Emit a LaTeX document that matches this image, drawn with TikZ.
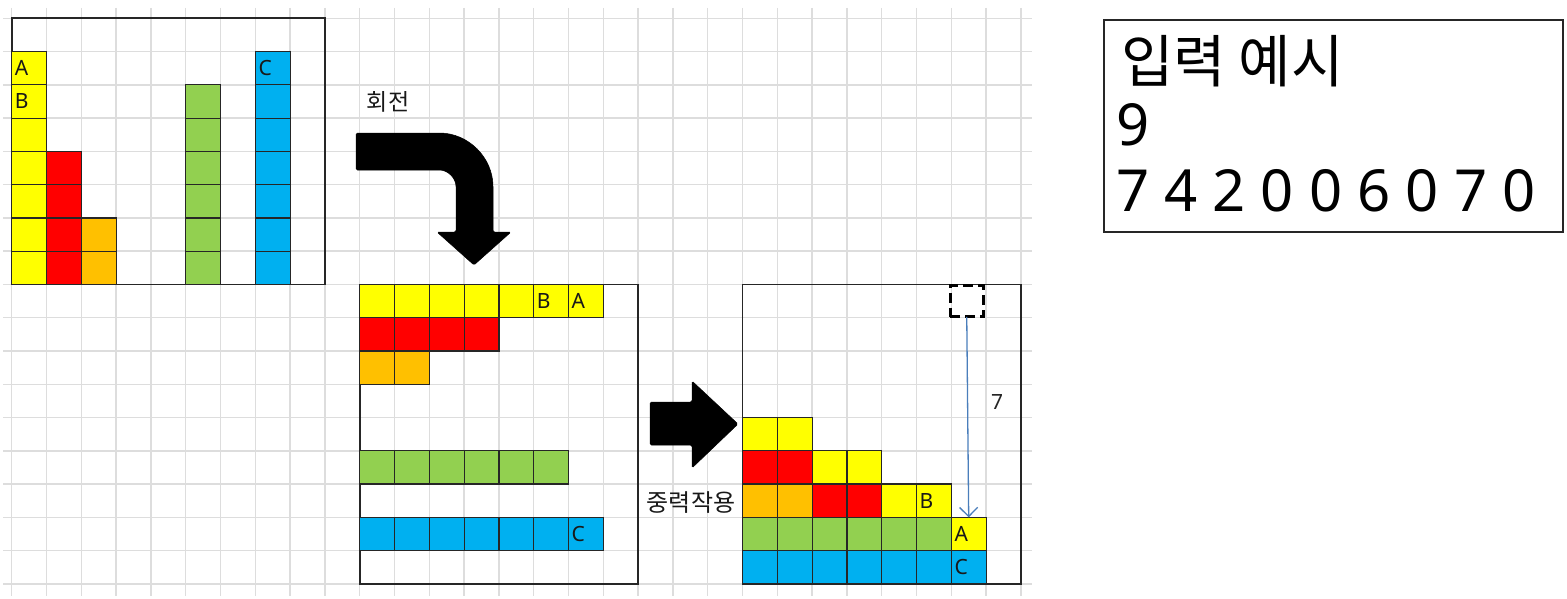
\documentclass[tikz,border=0pt]{standalone}
\usepackage{fontspec}
\setmainfont{Noto Sans}
\newfontfamily\kr{Noto Sans CJK KR}
\usetikzlibrary{arrows.meta}
\definecolor{cyel}{HTML}{FFFF00}
\definecolor{cred}{HTML}{FF0000}
\definecolor{corg}{HTML}{FFC000}
\definecolor{cgrn}{HTML}{92D050}
\definecolor{cblu}{HTML}{00B0F0}
\definecolor{gridc}{HTML}{DDDDDD}
\definecolor{arrowblue}{HTML}{4A7EBB}
\begin{document}
\begin{tikzpicture}[x=1pt,y=-1pt,
  gridline/.style={gridc, line width=1.4pt},
  frame/.style={draw=black!85, line width=1.7pt},
  cellbox/.style={draw=black!85, line width=1.2pt, minimum width=34.8pt, minimum height=33.27pt, inner sep=0pt, outer sep=0pt, anchor=north west},
  lettr/.style={font=\fontsize{21}{24}\selectfont, text=black!90, anchor=west, inner sep=3pt},
  blockarrow/.style={fill=black, draw=black, line width=0.5pt, rounded corners=1.5pt},
  krlabel/.style={font=\kr\fontsize{23}{28}\selectfont, text=black!90, inner sep=0pt},
  bigtxt/.style={inner sep=0pt, anchor=base west, text=black}]
\useasboundingbox (0,0) rectangle (1567,598);
\begin{scope}[shift={(11.7,18.3)}, x=34.8pt, y=-33.27pt]
  % grid
  \foreach \c in {0,...,29} \draw[gridline] (\c,-0.31) -- (\c,17.36);
  \foreach \r in {0,...,17} \draw[gridline] (-0.25,\r) -- (29.32,\r);
  % frames
  \draw[frame] (0,0) rectangle (9,8);
  \draw[frame] (10,8) rectangle (18,17);
  \draw[frame] (21,8) rectangle (29,17);
  % box 1
  \foreach \r in {1,...,7} \node[cellbox, fill=cyel] (a-0-\r) at (0,\r) {};
  \foreach \r in {4,...,7} \node[cellbox, fill=cred] (a-1-\r) at (1,\r) {};
  \foreach \r in {6,7} \node[cellbox, fill=corg] (a-2-\r) at (2,\r) {};
  \foreach \r in {2,...,7} \node[cellbox, fill=cgrn] (a-5-\r) at (5,\r) {};
  \foreach \r in {1,...,7} \node[cellbox, fill=cblu] (a-7-\r) at (7,\r) {};
  \node[lettr] (la1) at (a-0-1.west) {A};
  \node[lettr] (lb1) at (a-0-2.west) {B};
  \node[lettr] (lc1) at (a-7-1.west) {C};
  % box 2
  \foreach \c in {10,...,16} \node[cellbox, fill=cyel] (b-\c-8) at (\c,8) {};
  \foreach \c in {10,...,13} \node[cellbox, fill=cred] (b-\c-9) at (\c,9) {};
  \foreach \c in {10,11} \node[cellbox, fill=corg] (b-\c-10) at (\c,10) {};
  \foreach \c in {10,...,15} \node[cellbox, fill=cgrn] (b-\c-13) at (\c,13) {};
  \foreach \c in {10,...,16} \node[cellbox, fill=cblu] (b-\c-15) at (\c,15) {};
  \node[lettr] (lb2) at (b-15-8.west) {B};
  \node[lettr] (la2) at (b-16-8.west) {A};
  \node[lettr] (lc2) at (b-16-15.west) {C};
  % box 3
  \foreach \c in {21,22} \node[cellbox, fill=cyel] (c-\c-12) at (\c,12) {};
  \foreach \c in {21,22} \node[cellbox, fill=cred] (c-\c-13) at (\c,13) {};
  \foreach \c in {23,24} \node[cellbox, fill=cyel] (c-\c-13) at (\c,13) {};
  \foreach \c in {21,22} \node[cellbox, fill=corg] (c-\c-14) at (\c,14) {};
  \foreach \c in {23,24} \node[cellbox, fill=cred] (c-\c-14) at (\c,14) {};
  \foreach \c in {25,26} \node[cellbox, fill=cyel] (c-\c-14) at (\c,14) {};
  \foreach \c in {21,...,26} \node[cellbox, fill=cgrn] (c-\c-15) at (\c,15) {};
  \node[cellbox, fill=cyel] (c-27-15) at (27,15) {};
  \foreach \c in {21,...,27} \node[cellbox, fill=cblu] (c-\c-16) at (\c,16) {};
  \node[lettr] (lb3) at (c-26-14.west) {B};
  \node[lettr] (la3) at (c-27-15.west) {A};
  \node[lettr] (lc3) at (c-27-16.west) {C};
  % dashed origin square
  \node[cellbox, draw=black, line width=3pt, dash pattern=on 10pt off 5pt, minimum width=33pt, minimum height=31.5pt] (dsq) at (26.97,8.03) {};
\end{scope}
% drop arrow
\draw[arrowblue, line width=1.3pt, -{Straight Barb[length=9pt,width=18pt,line width=1.3pt]}] (dsq.south) -- (c-27-15.north);
\node[font=\fontsize{21}{24}\selectfont, text=black!85, inner sep=0pt] (seven) at (997,402) {7};
% rotate arrow
\path[blockarrow] (356,133) -- (438,133) .. controls (468.4,133) and (493,157.6) .. (493,188)
  -- (493,232) -- (511,232) -- (474,265) -- (437,232) -- (456,232) -- (456,188)
  .. controls (456,178.1) and (447.9,170) .. (438,170) -- (356,170) -- cycle;
\node[krlabel] (rot) at (388,102) {회전};
% gravity arrow
\path[blockarrow] (650,402) -- (692,402) -- (692,381) -- (738,424) -- (692,468) -- (692,445) -- (650,445) -- cycle;
\node[krlabel, font=\kr\fontsize{24}{28}\selectfont] (grav) at (691,503) {중력작용};
% input example box
\node[draw=black!85, line width=1.8pt, minimum width=459pt, minimum height=212pt, anchor=north west, inner sep=0pt] (inbox) at (1102.7,19) {};
\node[bigtxt, font=\kr\fontsize{57}{64}\selectfont] (t1) at (1121,82) {입력 예시};
\node[bigtxt, font=\fontsize{58}{64}\selectfont] (t2) at (1116,145) {9};
\node[bigtxt, font=\fontsize{58}{64}\selectfont] (t3) at (1116,211) {7 4 2 0 0 6 0 7 0};
\end{tikzpicture}
\end{document}
